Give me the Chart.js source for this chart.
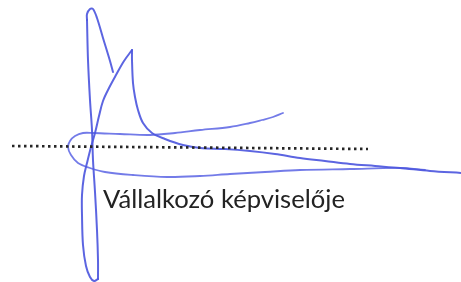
<!DOCTYPE html>
<html>
<head>
<meta charset="utf-8">
<script src="https://cdn.jsdelivr.net/npm/chart.js@4/dist/chart.umd.min.js"></script>
<style>
  html,body{margin:0;padding:0;background:#fff;}
  #wrap{width:461px;height:282px;position:relative;}
</style>
</head>
<body>
<div id="wrap"><canvas id="c" width="461" height="282"></canvas></div>
<script>
// Signature strokes, as [x, y] samples (page pixel space)
const hookStroke = [[113,72],[110,61],[103,38],[97,18],[93,9],[90,9],[87,14],[87,20]];
const verticalStroke = [[87,20],[88,60],[90,100],[92,130],[93,160],[95,192],[97,230],[98,260],[98,279]];
const diagonalStroke = [[98,279],[94,281],[90,277],[86,266],[83,245],[82,215],[82,195],[84,176],[87,163],[91,147],[95,133],[99,116],[103,101],[109,88],[116,75],[124,61],[132,50]];
const tailStroke = [[132,50],[132,60],[133,83],[135,97],[138,110],[143,123],[152,133],[165,139],[183,145],[200,148],[225,149],[250,151],[275,154],[300,158],[325,161],[350,164],[375,166],[400,168],[430,171],[461,173]];
const loopStroke = [[283,113],[273,117],[262,120],[250,123],[230,127],[200,130],[175,133],[150,135],[120,134],[93,133],[83,133],[75,136],[70,141],[68,147],[71,155],[78,163],[90,168],[105,172],[133,175],[167,177],[200,176],[230,174],[265,172],[300,170],[350,169],[400,168],[425,170]];
const dottedLine = [[12,146],[368,149]];
const captionText = "Vállalkozó képviselője";

const toPts = arr => arr.map(p => ({x:p[0], y:p[1]}));
const ink = 'rgba(78,88,222,0.92)';

const captionPlugin = {
  id: 'caption',
  afterDatasetsDraw(chart) {
    const ctx = chart.ctx;
    const xs = chart.scales.x, ys = chart.scales.y;
    ctx.save();
    const fam = 'Lato, "Open Sans", sans-serif';
    const targetW = 242;
    ctx.font = '20px ' + fam;
    const w = ctx.measureText(captionText).width;
    const size = 20 * targetW / w;
    ctx.font = size.toFixed(2) + 'px ' + fam;
    ctx.fillStyle = '#232323';
    ctx.textBaseline = 'alphabetic';
    ctx.fillText(captionText, xs.getPixelForValue(103), ys.getPixelForValue(208));
    ctx.restore();
  }
};

const strokeDs = (pts, extra) => Object.assign({
  data: toPts(pts),
  showLine: true,
  borderColor: ink,
  borderWidth: 2,
  pointRadius: 0,
  tension: 0.35,
  fill: false,
  borderCapStyle: 'round',
  borderJoinStyle: 'round',
  clip: false
}, extra || {});

new Chart(document.getElementById('c'), {
  type: 'scatter',
  data: {
    datasets: [
      strokeDs(dottedLine, {borderColor:'#262626', borderWidth:2.7, borderDash:[2.5,3.5], borderCapStyle:'butt', tension:0}),
      strokeDs(hookStroke),
      strokeDs(verticalStroke),
      strokeDs(diagonalStroke),
      strokeDs(tailStroke),
      strokeDs(loopStroke, {borderColor:'rgba(90,100,228,0.85)', borderWidth:1.8})
    ]
  },
  options: {
    responsive: false,
    animation: false,
    events: [],
    layout: {padding: 0},
    plugins: {legend:{display:false}, tooltip:{enabled:false}, title:{display:false}},
    scales: {
      x: {type:'linear', min:0, max:461, display:false},
      y: {type:'linear', min:0, max:282, reverse:true, display:false}
    }
  },
  plugins: [captionPlugin]
});
</script>
</body>
</html>
